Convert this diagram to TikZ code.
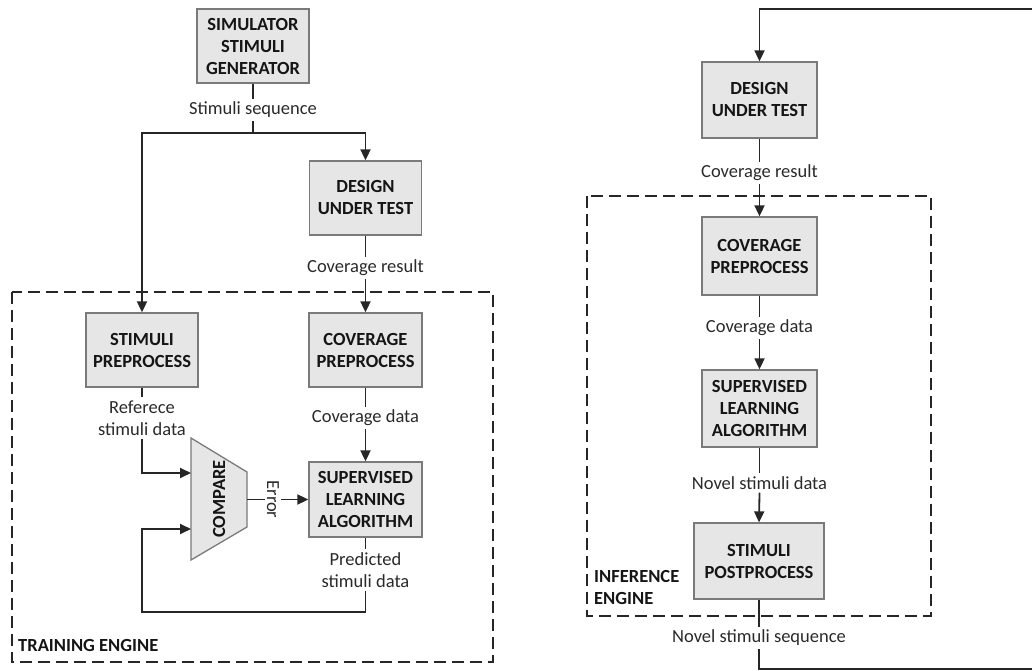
\documentclass[tikz,border=0pt]{standalone}
\usepackage{fontspec}
\setmainfont{Carlito}
\usetikzlibrary{arrows.meta,calc}
\definecolor{boxfill}{HTML}{E6E6E6}
\definecolor{boxdraw}{HTML}{7A7A7A}
\definecolor{txt}{HTML}{151515}
\definecolor{lbl}{HTML}{2A2A2A}
\definecolor{ln}{HTML}{262626}
\begin{document}
\begin{tikzpicture}[x=1pt,y=-1pt,
 blk/.style={draw=boxdraw, line width=1.3pt, fill=boxfill, align=center,
   font=\fontsize{18.5}{22}\selectfont\bfseries, text=txt, inner sep=0pt},
 lab/.style={align=center, font=\fontsize{18.5}{22}\selectfont, text=lbl, inner sep=3pt},
 hdr/.style={align=left, font=\fontsize{18.5}{22}\selectfont\bfseries, text=txt, inner sep=0pt},
 wire/.style={draw=ln, line width=1.8pt},
 arr/.style={wire, -{Triangle[length=11pt,width=10pt]}},
 frame/.style={draw=ln, line width=1.7pt, dash pattern=on 12pt off 6pt},
]
\useasboundingbox (0,0) rectangle (1032,671);

% ---------- frames ----------
\draw[frame] (12,292) rectangle (493,662);
\draw[frame] (587,196) rectangle (931,616);

% ---------- left: training ----------
\node[blk, minimum width=112pt, minimum height=74pt] (gen) at (253,46) {SIMULATOR\\STIMULI\\GENERATOR};
\node[blk, minimum width=112pt, minimum height=74pt] (dutL) at (365.5,198) {DESIGN\\UNDER TEST};
\node[blk, minimum width=112pt, minimum height=74pt] (stpre) at (142,350) {STIMULI\\PREPROCESS};
\node[blk, minimum width=113pt, minimum height=74pt] (covL) at (365.5,350) {COVERAGE\\PREPROCESS};
\node[blk, minimum width=113pt, minimum height=75pt] (slaL) at (365.5,499.5) {SUPERVISED\\LEARNING\\ALGORITHM};

\draw[draw=boxdraw, line width=1.3pt, fill=boxfill] (191,438) -- (247,472) -- (247,527) -- (191,560) -- cycle;
\node[font=\fontsize{18.5}{22}\selectfont\bfseries, text=txt, rotate=90, inner sep=0pt] (cmp) at (219,499) {COMPARE};
\coordinate (cin1) at (191,473);
\coordinate (cin2) at (191,529);
\coordinate (cout) at (247,499.5);

\node[lab] (l1) at (253,110) {Stimuli sequence};
\node[lab] (l2) at (365.5,268) {Coverage result};
\node[lab] (l3) at (142,418) {Referece\\stimuli data};
\node[lab] (l4) at (365.5,418) {Coverage data};
\node[lab] (l5) at (365.5,570) {Predicted\\stimuli data};
\node[lab, rotate=-90, inner sep=2pt] (err) at (273,499.5) {Error};
\node[hdr, anchor=west] (te) at (18,645) {TRAINING ENGINE};

\coordinate (j1) at (253,133);
\coordinate (fb1) at (142,612);

\draw[wire] (gen.south) -- (l1.north);
\draw[wire] (l1.south) -- (j1);
\draw[arr] (j1) -| (stpre.north);
\draw[arr] (j1) -| (dutL.north);
\draw[wire] (dutL.south) -- (l2.north);
\draw[arr] (l2.south) -- (covL.north);
\draw[wire] (covL.south) -- (l4.north);
\draw[arr] (l4.south) -- (slaL.north);
\draw[wire] (stpre.south) -- (l3.north);
\draw[arr] (l3.south) |- (cin1);
\draw[wire] (slaL.south) -- (l5.north);
\draw[arr] (l5.south) |- (fb1) |- (cin2);
\draw[wire] (cout) -- (err.south);
\draw[arr] (err.north) -- (slaL.west);

% ---------- right: inference ----------
\node[blk, minimum width=115pt, minimum height=76pt] (dutR) at (759.5,100) {DESIGN\\UNDER TEST};
\node[blk, minimum width=115pt, minimum height=78pt] (covR) at (759.5,256) {COVERAGE\\PREPROCESS};
\node[blk, minimum width=115pt, minimum height=77pt] (slaR) at (759.5,408.5) {SUPERVISED\\LEARNING\\ALGORITHM};
\node[blk, minimum width=130pt, minimum height=76pt] (post) at (759,561) {STIMULI\\POSTPROCESS};

\node[lab] (r1) at (759.5,173) {Coverage result};
\node[lab] (r2) at (759.5,328) {Coverage data};
\node[lab] (r3) at (759.5,483) {Novel stimuli data};
\node[lab] (r4) at (759,638) {Novel stimuli sequence};
\node[hdr, anchor=west] (ie) at (594,587) {INFERENCE\\ENGINE};

\coordinate (f1) at (759,669);
\coordinate (f2) at (1045,669);
\coordinate (f3) at (1045,9);
\coordinate (f4) at (759.5,9);

\draw[wire] (dutR.south) -- (r1.north);
\draw[arr] (r1.south) -- (covR.north);
\draw[wire] (covR.south) -- (r2.north);
\draw[arr] (r2.south) -- (slaR.north);
\draw[wire] (slaR.south) -- (r3.north);
\draw[arr] (r3.south) -- (post.north);
\draw[wire] (post.south) -- (r4.north);
\draw[arr] (r4.south) -- (f1) -- (f2) -- (f3) -- (f4) -- (dutR.north);
\end{tikzpicture}
\end{document}
